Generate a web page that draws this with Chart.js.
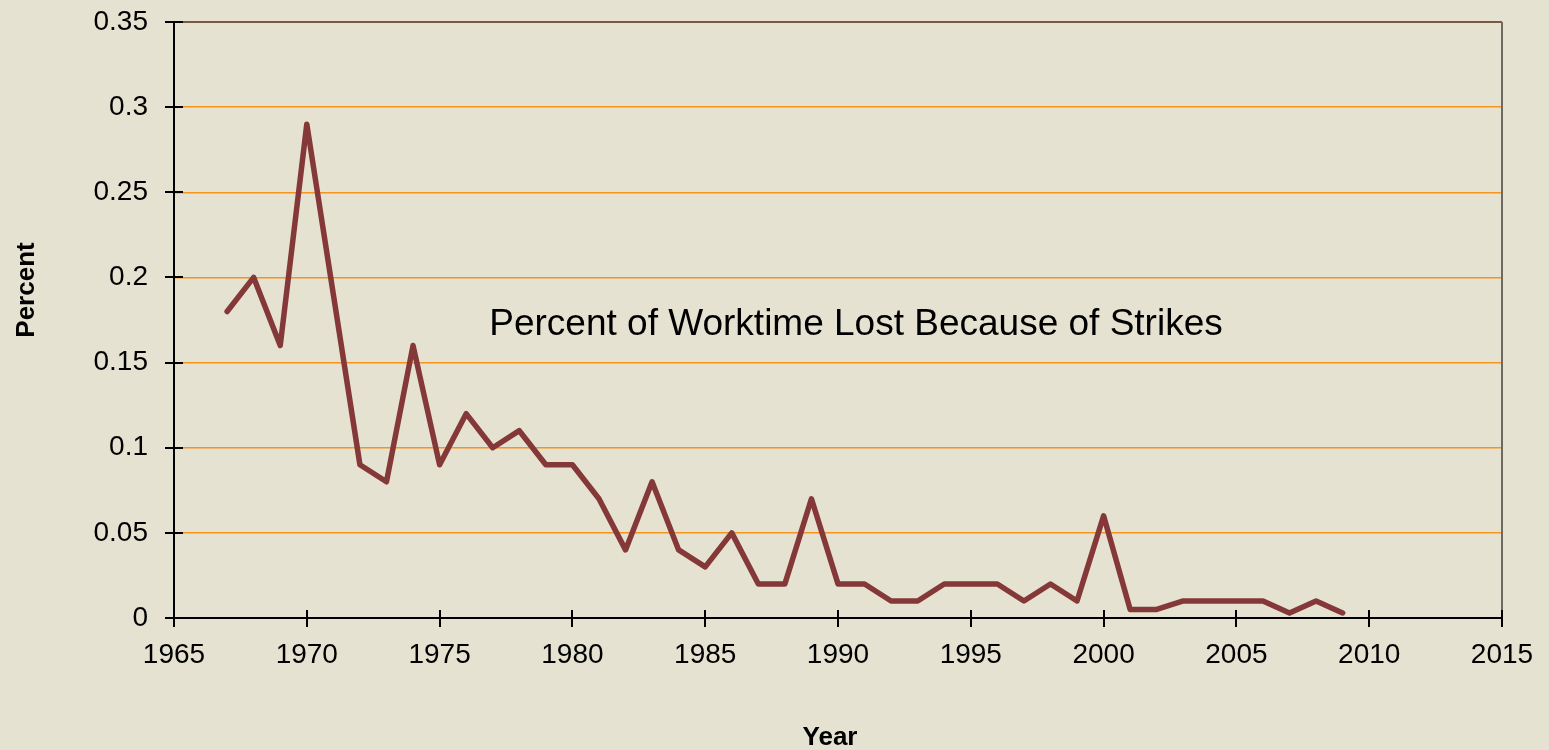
<!DOCTYPE html>
<html>
<head>
<meta charset="utf-8">
<script src="https://cdn.jsdelivr.net/npm/chart.js@4.4.1/dist/chart.umd.min.js"></script>
<style>
  html, body { margin: 0; padding: 0; background: #e5e2d2; }
  #wrap { width: 1549px; height: 750px; }
</style>
</head>
<body>
<div id="wrap"><canvas id="c" width="1549" height="750"></canvas></div>
<script>
const years = [1967,1968,1969,1970,1971,1972,1973,1974,1975,1976,1977,1978,1979,1980,
  1981,1982,1983,1984,1985,1986,1987,1988,1989,1990,1991,1992,1993,1994,1995,1996,
  1997,1998,1999,2000,2001,2002,2003,2004,2005,2006,2007,2008,2009];
const percentLost = [0.18,0.20,0.16,0.29,0.19,0.09,0.08,0.16,0.09,0.12,0.10,0.11,0.09,0.09,
  0.07,0.04,0.08,0.04,0.03,0.05,0.02,0.02,0.07,0.02,0.02,0.01,0.01,0.02,0.02,0.02,
  0.01,0.02,0.01,0.06,0.005,0.005,0.01,0.01,0.01,0.01,0.003,0.01,0.003];
const xTickLabels = ["1965","1970","1975","1980","1985","1990","1995","2000","2005","2010","2015"];
const yTickLabels = ["0","0.05","0.1","0.15","0.2","0.25","0.3","0.35"];
const chartTitle = "Percent of Worktime Lost Because of Strikes";
const xTitle = "Year";
const yTitle = "Percent";

const FONT = "'Liberation Sans', Arial, sans-serif";

const decor = {
  id: 'decor',
  beforeDraw(chart) {
    const ctx = chart.ctx;
    ctx.save();
    ctx.fillStyle = '#e5e2d2';
    ctx.fillRect(0, 0, chart.width, chart.height);
    ctx.restore();
  },
  beforeDatasetsDraw(chart) {
    const ctx = chart.ctx;
    const a = chart.chartArea;
    ctx.save();
    ctx.lineWidth = 2;
    ctx.strokeStyle = '#7a5a3c';
    ctx.beginPath(); ctx.moveTo(a.left, a.top); ctx.lineTo(a.right, a.top); ctx.stroke();
    ctx.strokeStyle = '#6e6a60';
    ctx.beginPath(); ctx.moveTo(a.right, a.top); ctx.lineTo(a.right, a.bottom); ctx.stroke();
    ctx.fillStyle = '#000';
    ctx.font = "37px " + FONT;
    ctx.textAlign = 'center';
    ctx.textBaseline = 'middle';
    ctx.fillText(chartTitle, 856, 325);
    // axis titles
    ctx.font = "bold 26px " + FONT;
    ctx.fillText(xTitle, 830, 738);
    ctx.translate(27, 290);
    ctx.rotate(-Math.PI / 2);
    ctx.fillText(yTitle, 0, 0);
    ctx.restore();
  },
  afterDraw(chart) {
    const ctx = chart.ctx;
    const a = chart.chartArea;
    const xs = chart.scales.x, ys = chart.scales.y;
    ctx.save();
    ctx.strokeStyle = '#000';
    ctx.lineWidth = 2;
    ctx.beginPath();
    ys.ticks.forEach(t => {
      const y = Math.round(ys.getPixelForValue(t.value));
      ctx.moveTo(a.left - 9, y); ctx.lineTo(a.left + 9, y);
    });
    xs.ticks.forEach(t => {
      const x = Math.round(xs.getPixelForValue(t.value));
      ctx.moveTo(x, a.bottom - 8); ctx.lineTo(x, a.bottom + 9);
    });
    ctx.stroke();
    ctx.restore();
  }
};

new Chart(document.getElementById('c'), {
  type: 'line',
  data: {
    datasets: [{
      data: years.map((y, i) => ({ x: y, y: percentLost[i] })),
      borderColor: '#843838',
      borderWidth: 5.5,
      pointRadius: 0,
      tension: 0,
      borderJoinStyle: 'round',
      borderCapStyle: 'round',
      fill: false
    }]
  },
  options: {
    responsive: false,
    animation: false,
    layout: { padding: { left: 0, right: 47, top: 22, bottom: 0 } },
    plugins: { legend: { display: false }, tooltip: { enabled: false } },
    scales: {
      x: {
        type: 'linear',
        min: 1965, max: 2015,
        afterFit(s) { s.height = 132; s.paddingLeft = 0; s.paddingRight = 0; },
        ticks: {
          stepSize: 5,
          autoSkip: false,
          maxRotation: 0,
          padding: 20,
          color: '#000',
          font: { family: FONT, size: 28 },
          callback: (v) => xTickLabels[Math.round((v - 1965) / 5)]
        },
        grid: { display: false, drawTicks: false },
        border: { display: true, color: '#000', width: 2 },
        title: { display: false }
      },
      y: {
        min: 0, max: 0.35,
        afterFit(s) { s.width = 174; s.paddingTop = 0; s.paddingBottom = 0; },
        ticks: {
          stepSize: 0.05,
          padding: 26,
          color: '#000',
          font: { family: FONT, size: 28 },
          callback: (v) => yTickLabels[Math.round(v / 0.05)]
        },
        grid: {
          drawTicks: false,
          lineWidth: 1.5,
          color: (c) => (c.tick && (Math.round(c.tick.value / 0.05) === 0 || Math.round(c.tick.value / 0.05) === 7)) ? 'rgba(0,0,0,0)' : '#f7941d'
        },
        border: { display: true, color: '#000', width: 2 },
        title: { display: false }
      }
    }
  },
  plugins: [decor]
});
</script>
</body>
</html>
